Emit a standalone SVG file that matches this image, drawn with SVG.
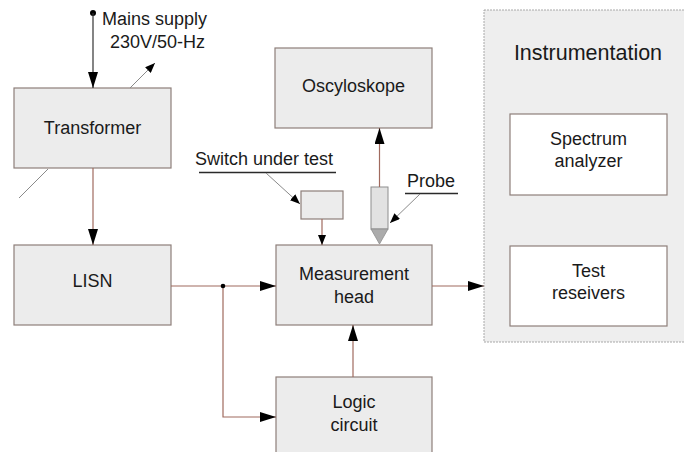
<svg xmlns="http://www.w3.org/2000/svg" width="684" height="452" viewBox="0 0 684 452">
  <defs>
    <marker id="arrow" markerUnits="userSpaceOnUse" markerWidth="16" markerHeight="10" refX="16" refY="5" orient="auto">
      <path d="M0,0 L16,5 L0,10 z" fill="#000"/>
    </marker>
    <marker id="arrow-sm" markerUnits="userSpaceOnUse" markerWidth="10" markerHeight="8" refX="10" refY="4" orient="auto">
      <path d="M0,0 L10,4 L0,8 z" fill="#000"/>
    </marker>
    <style>
      .box { fill: #ececec; stroke: #8e7f7a; stroke-width: 1.2; }
      .inner { fill: #ffffff; stroke: #8e7f7a; stroke-width: 1.2; }
      .frame { fill: #eeeeee; stroke: #a8a8a8; stroke-width: 1; stroke-dasharray: 2 1; }
      .wire { fill: none; stroke: #a06a5e; stroke-width: 1.2; }
      .lead { fill: none; stroke: #8a8a8a; stroke-width: 1; }
      .uline { stroke: #2a2a2a; stroke-width: 1.6; }
      text { font-family: "Liberation Sans", Arial, sans-serif; font-size: 18px; fill: #1a1a1a; text-anchor: middle; }
      .lbl { text-anchor: start; }
    </style>
  </defs>

  <!-- Instrumentation rack -->
  <g id="instrumentation">
    <rect class="frame" x="484" y="10" width="210" height="332"/>
    <text x="588" y="60" style="font-size:21.5px">Instrumentation</text>
  </g>
  <g id="spectrum-analyzer">
    <rect class="inner" x="510" y="114" width="157" height="81"/>
    <text x="588.5" y="145">Spectrum</text>
    <text x="588.5" y="167">analyzer</text>
  </g>
  <g id="test-receivers">
    <rect class="inner" x="510" y="246" width="157" height="80"/>
    <text x="588.5" y="277">Test</text>
    <text x="588.5" y="299">reseivers</text>
  </g>

  <!-- Main blocks -->
  <g id="transformer">
    <rect class="box" x="14" y="88" width="157" height="80"/>
    <text x="92.5" y="134">Transformer</text>
  </g>
  <g id="lisn">
    <rect class="box" x="14" y="245" width="157" height="80"/>
    <text x="92.5" y="287">LISN</text>
  </g>
  <g id="measurement-head">
    <rect class="box" x="276" y="245" width="156" height="80"/>
    <text x="354" y="280">Measurement</text>
    <text x="354" y="303">head</text>
  </g>
  <g id="logic-circuit">
    <rect class="box" x="276" y="377" width="156" height="80"/>
    <text x="354" y="408">Logic</text>
    <text x="354" y="431">circuit</text>
  </g>
  <g id="oscilloscope">
    <rect class="box" x="275" y="48" width="157" height="80"/>
    <text x="353.5" y="92">Oscyloskope</text>
  </g>
  <g id="switch-under-test">
    <rect class="box" x="301" y="191" width="42" height="28"/>
    <text class="lbl" x="195" y="165">Switch under test</text>
    <line class="uline" x1="199" y1="172.5" x2="336" y2="172.5"/>
  </g>
  <g id="probe">
    <rect x="371" y="187" width="17" height="42" fill="#e2e2e2" stroke="#8e8e8e" stroke-width="1"/>
    <path d="M371,229 L388,229 L379.5,244 z" fill="#ababab" stroke="#8e8e8e" stroke-width="0.8"/>
    <text class="lbl" x="407" y="187">Probe</text>
    <line class="uline" x1="405" y1="193.5" x2="458" y2="193.5"/>
  </g>
  <g id="mains">
    <circle cx="93" cy="13" r="3" fill="#000"/>
    <text class="lbl" x="102" y="25">Mains supply</text>
    <text class="lbl" x="110" y="48">230V/50-Hz</text>
  </g>

  <!-- Connectors -->
  <g id="connectors">
    <path d="M93,13 V88" fill="none" stroke="#333" stroke-width="1.2" marker-end="url(#arrow)"/>
    <path class="lead" d="M130,88 L155,63" marker-end="url(#arrow-sm)"/>
    <path class="lead" d="M48,169 L19,198"/>
    <path class="wire" d="M93,168 V245" marker-end="url(#arrow)"/>
    <path class="wire" d="M171,286 H276" marker-end="url(#arrow)"/>
    <path class="wire" d="M223,286 V417 H276" marker-end="url(#arrow)"/>
    <circle cx="223" cy="286" r="2.3" fill="#000"/>
    <path class="wire" d="M353,377 V325" marker-end="url(#arrow)"/>
    <path class="wire" d="M432,286 H484" marker-end="url(#arrow)"/>
    <path class="wire" d="M379.5,187 V128" marker-end="url(#arrow)"/>
    <path class="wire" d="M322,219 V245" marker-end="url(#arrow-sm)"/>
    <path class="lead" d="M266,173 L300,204" marker-end="url(#arrow-sm)"/>
    <path class="lead" d="M420,194 L390,223" marker-end="url(#arrow-sm)"/>
  </g>
</svg>
